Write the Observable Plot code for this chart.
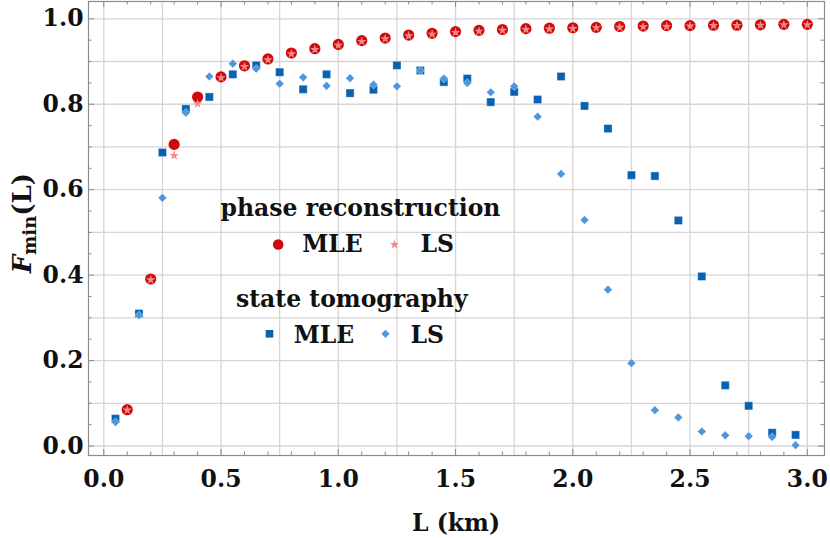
<!DOCTYPE html>
<html><head><meta charset="utf-8">
<script src="https://cdn.jsdelivr.net/npm/d3@7"></script>
<script src="https://cdn.jsdelivr.net/npm/@observablehq/plot@0.6"></script>
<style>body{margin:0;background:#fff}</style>
</head><body><div id="chart"></div>
<script>
// Phase reconstruction: L (km) and minimum fidelity
const phaseL = [0.1,0.2,0.3,0.4,0.5,0.6,0.7,0.8,0.9,1.0,1.1,1.2,1.3,1.4,1.5,1.6,1.7,1.8,1.9,2.0,2.1,2.2,2.3,2.4,2.5,2.6,2.7,2.8,2.9,3.0];
const phaseMLE = [0.085,0.391,0.706,0.817,0.864,0.890,0.906,0.920,0.930,0.940,0.949,0.955,0.962,0.966,0.970,0.973,0.975,0.977,0.978,0.979,0.980,0.982,0.983,0.984,0.984,0.985,0.985,0.986,0.987,0.987];
const phaseLS = [0.084,0.389,0.680,0.801,0.862,0.888,0.904,0.918,0.928,0.938,0.947,0.953,0.960,0.964,0.968,0.971,0.973,0.975,0.976,0.977,0.979,0.980,0.981,0.982,0.983,0.984,0.984,0.985,0.986,0.986];
// State tomography
const tomoL = [0.05,0.15,0.25,0.35,0.45,0.55,0.65,0.75,0.85,0.95,1.05,1.15,1.25,1.35,1.45,1.55,1.65,1.75,1.85,1.95,2.05,2.15,2.25,2.35,2.45,2.55,2.65,2.75,2.85,2.95];
const tomoMLE = [0.064,0.310,0.687,0.789,0.817,0.870,0.891,0.875,0.835,0.870,0.826,0.834,0.891,0.879,0.852,0.860,0.805,0.829,0.811,0.865,0.796,0.743,0.634,0.632,0.528,0.397,0.142,0.094,0.031,0.026];
const tomoLS = [0.056,0.306,0.581,0.780,0.865,0.895,0.883,0.848,0.863,0.843,0.861,0.846,0.842,0.879,0.860,0.850,0.828,0.842,0.771,0.637,0.529,0.366,0.194,0.084,0.067,0.034,0.025,0.023,0.021,0.002];
// Axes
const xTickLabels = [0.0,0.5,1.0,1.5,2.0,2.5,3.0];
const yTickLabels = [0.0,0.2,0.4,0.6,0.8,1.0];
const xGrid = [0,0.25,0.5,0.75,1.0,1.25,1.5,1.75,2.0,2.25,2.5,2.75,3.0];
const yGrid = [0,0.1,0.2,0.3,0.4,0.5,0.6,0.7,0.8,0.9,1.0];
const xMinor = [0.1,0.2,0.3,0.4,0.6,0.7,0.8,0.9,1.1,1.2,1.3,1.4,1.6,1.7,1.8,1.9,2.1,2.2,2.3,2.4,2.6,2.7,2.8,2.9];
const yMinor = [0.05,0.1,0.15,0.25,0.3,0.35,0.45,0.5,0.55,0.65,0.7,0.75,0.85,0.9,0.95];

const phase = phaseL.map((L,i)=>({L, mle: phaseMLE[i], ls: phaseLS[i]}));
const tomo = tomoL.map((L,i)=>({L, mle: tomoMLE[i], ls: tomoLS[i]}));

const W = 830, H = 538, mL = 88, mR = 6, mT = 1, mB = 83;
const innerH = H - mT - mB, innerW = W - mL - mR;
const FONT = "DejaVu Serif";
const frameC = "#8c8c8c", gridC = "#d6d6d6";
const cRed = "#d00a0a", cPink = "#f28c8c", cDark = "#0862b2", cLight = "#4f97dd";

const tickLen = 6, minorLen = 3.5;

const legendText = (t, dx, dy, anchor) => Plot.text([t], {text: d=>d, frameAnchor:"top-left", dx, dy, textAnchor: anchor, lineAnchor:"bottom", fontSize: 23.5, fontWeight:"bold", fill:"#111"});
const legendDot = (symbol, r, fill, dx, dy) => Plot.dot([0], {frameAnchor:"top-left", dx, dy, symbol, r, fill, stroke:"none"});

const svg = Plot.plot({
  width: W, height: H,
  marginLeft: mL, marginRight: mR, marginTop: mT, marginBottom: mB,
  style: {fontFamily: FONT, fontWeight: "bold", fontSize: "23px", color: "#111", background: "#fff"},
  x: {domain: [-0.0652, 3.0733], axis: null},
  y: {domain: [-0.0222, 1.0405], axis: null},
  marks: [
    Plot.ruleX(xGrid, {stroke: gridC, strokeWidth: 1.3}),
    Plot.ruleY(yGrid, {stroke: gridC, strokeWidth: 1.3}),
    // inward ticks
    Plot.tickX(xTickLabels, {x: d=>d, insetTop: innerH - tickLen, stroke: frameC}),
    Plot.tickX(xTickLabels, {x: d=>d, insetBottom: innerH - tickLen, stroke: frameC}),
    Plot.tickX(xMinor, {x: d=>d, insetTop: innerH - minorLen, stroke: frameC}),
    Plot.tickX(xMinor, {x: d=>d, insetBottom: innerH - minorLen, stroke: frameC}),
    Plot.tickY(yTickLabels, {y: d=>d, insetRight: innerW - tickLen, stroke: frameC}),
    Plot.tickY(yTickLabels, {y: d=>d, insetLeft: innerW - tickLen, stroke: frameC}),
    Plot.tickY(yMinor, {y: d=>d, insetRight: innerW - minorLen, stroke: frameC}),
    Plot.tickY(yMinor, {y: d=>d, insetLeft: innerW - minorLen, stroke: frameC}),
    Plot.frame({stroke: frameC, strokeWidth: 1.2}),
    Plot.axisX(xTickLabels, {anchor: "bottom", tickSize: 0, tickPadding: 15, tickFormat: d3.format(".1f"), label: null, fontSize: 23.5, fontWeight: "bold", fill:"#111"}),
    Plot.axisY(yTickLabels, {anchor: "left", tickSize: 0, tickPadding: 5, tickFormat: d3.format(".1f"), label: null, fontSize: 23.5, fontWeight: "bold", fill:"#111"}),
    // data
    Plot.dot(tomo, {x: "L", y: "mle", symbol: "square", r: 4.6, fill: cDark, stroke: "#fff", strokeOpacity: 0.45, strokeWidth: 0.8}),
    Plot.dot(tomo, {x: "L", y: "ls", symbol: "diamond2", r: 3.9, fill: cLight, stroke: "#fff", strokeOpacity: 0.45, strokeWidth: 0.8}),
    Plot.dot(phase, {x: "L", y: "mle", symbol: "circle", r: 5.6, fill: cRed, stroke: "none"}),
    Plot.dot(phase, {x: "L", y: "ls", symbol: "star", r: 3.0, fill: cPink, stroke: "none"}),
    // legend
    legendText("phase reconstruction", 272, 214, "middle"),
    legendDot("circle", 5.3, cRed, 189.7, 243),
    legendText("MLE", 213.7, 250.7, "start"),
    legendDot("star", 3.0, cPink, 306, 243),
    legendText("LS", 332, 250.7, "start"),
    legendText("state tomography", 263.3, 305.7, "middle"),
    legendDot("square", 4.3, cDark, 181, 332.3),
    legendText("MLE", 205.3, 341, "start"),
    legendDot("diamond2", 3.7, cLight, 297, 332.3),
    legendText("LS", 322, 341, "start"),
    // x axis title
    Plot.text(["L (km)"], {text: d=>d, frameAnchor: "bottom", dy: 75, lineAnchor: "bottom", fontSize: 23.5, fontWeight: "bold", fill: "#111", dx: 455.5 - (mL + innerW/2)})
  ]
});

// y axis title with italic F and subscript
const yt = d3.select(svg).append("text")
  .attr("transform", `translate(31,${223}) rotate(-90)`)
  .attr("text-anchor", "middle")
  .attr("font-family", FONT).attr("font-weight", "bold").attr("font-size", 26).attr("fill", "#111");
yt.append("tspan").attr("font-style", "italic").text("F");
yt.append("tspan").attr("font-size", 18).attr("dy", 5).text("min");
yt.append("tspan").attr("dy", -5).text("(L)");

document.getElementById("chart").appendChild(svg);
</script>
</body></html>
